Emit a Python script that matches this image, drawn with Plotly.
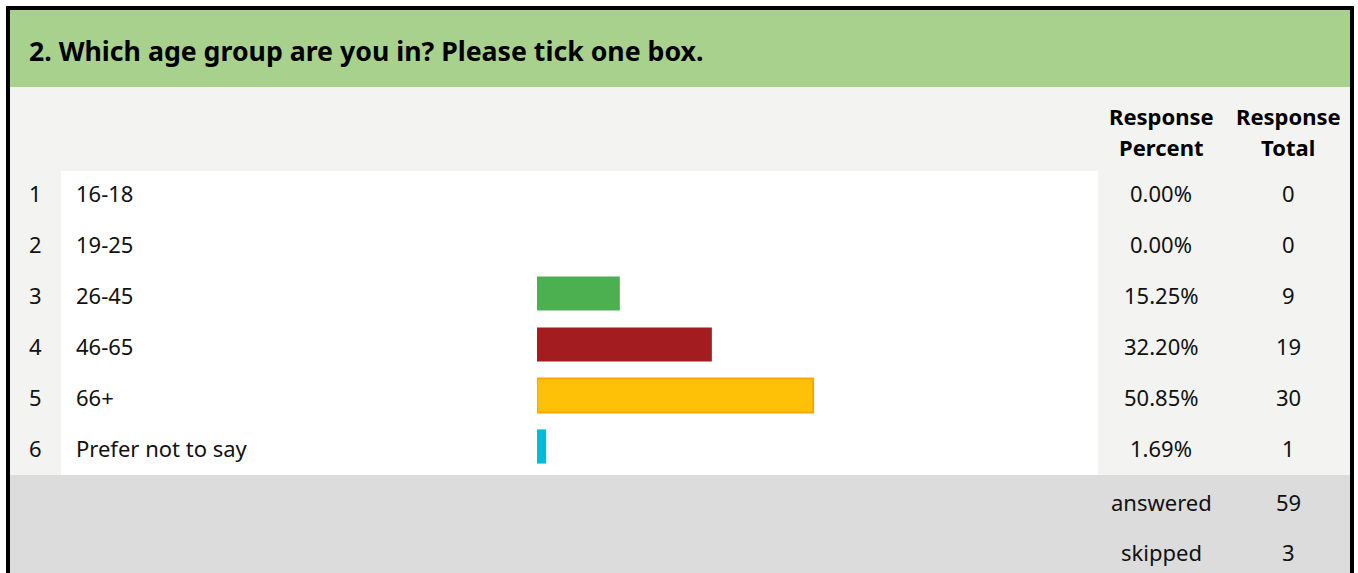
import plotly.graph_objects as go

W, H = 1358, 573

TITLE = "2. Which age group are you in? Please tick one box."
ROW_NUMBERS = ["1", "2", "3", "4", "5", "6"]
ANSWERS = ["16-18", "19-25", "26-45", "46-65", "66+", "Prefer not to say"]
PERCENTS = [0.00, 0.00, 15.25, 32.20, 50.85, 1.69]
TOTALS = [0, 0, 9, 19, 30, 1]
BAR_COLORS = ["#4CAF50", "#4CAF50", "#4CAF50", "#A31C1F", "#FFC107", "#00BCD4"]
LINE_COLORS = ["#4CAF50", "#4CAF50", "#4CAF50", "#A31C1F", "#FFA500", "#00BCD4"]
LINE_WIDTHS = [0, 0, 0, 0, 2, 0]
HEADER_LINES = [["Response", "Percent"], ["Response", "Total"]]
SUMMARY_LABELS = ["answered", "skipped"]
SUMMARY_VALUES = [59, 3]

FONT = "Noto Sans"
TEXT = "#111111"


def px(x):
    return x / W


def py(y):
    return 1 - y / H


def rect(x0, y0, x1, y1, color):
    return dict(type="rect", xref="paper", yref="paper", layer="below",
                x0=px(x0), x1=px(x1), y0=py(y1), y1=py(y0),
                fillcolor=color, line=dict(width=0))


rows = list(range(1, len(ANSWERS) + 1))

fig = go.Figure(go.Bar(
    x=PERCENTS, y=rows, orientation="h", width=0.67,
    marker=dict(color=BAR_COLORS, line=dict(color=LINE_COLORS, width=LINE_WIDTHS)),
    hoverinfo="skip",
))

shapes = [
    rect(10, 10, 1350, 87, "#A9D18E"),
    rect(10, 87, 1350, 475, "#F3F3F2"),
    rect(61, 171, 1098, 475, "#FFFFFF"),
    rect(10, 475, 1350, 573, "#DCDCDC"),
    rect(6, 6, 1354, 10, "#000000"),
    rect(6, 6, 10, 573, "#000000"),
    rect(1350, 6, 1354, 573, "#000000"),
]

ann = [dict(text="<b>%s</b>" % TITLE, xref="paper", yref="paper", x=px(27), y=py(50),
            xanchor="left", yanchor="middle", showarrow=False,
            font=dict(size=26.7, color="#000000", family=FONT))]

for xc, lines in zip([1161, 1288], HEADER_LINES):
    for yc, line in zip([116, 147], lines):
        ann.append(dict(text="<b>%s</b>" % line, xref="paper", yref="paper", x=px(xc), y=py(yc),
                        xanchor="center", yanchor="middle", showarrow=False,
                        font=dict(size=22, color="#000000", family=FONT)))

for r, n, a, p, t in zip(rows, ROW_NUMBERS, ANSWERS, PERCENTS, TOTALS):
    common = dict(xref="paper", yref="y", y=r, yanchor="middle", showarrow=False,
                  yshift=-1, font=dict(size=22, color=TEXT, family=FONT))
    ann.append(dict(text=n, x=px(35), xanchor="center", **common))
    ann.append(dict(text=a, x=px(74), xanchor="left", **common))
    ann.append(dict(text="%.2f%%" % p, x=px(1161), xanchor="center", **common))
    ann.append(dict(text=str(t), x=px(1288), xanchor="center", **common))

for yc, lab, val in zip([502, 552], SUMMARY_LABELS, SUMMARY_VALUES):
    for xc, txt in [(1161, lab), (1288, str(val))]:
        ann.append(dict(text=txt, xref="paper", yref="paper", x=px(xc), y=py(yc),
                        xanchor="center", yanchor="middle", showarrow=False,
                        font=dict(size=22, color=TEXT, family=FONT)))

fig.update_layout(
    width=W, height=H,
    margin=dict(l=0, r=0, t=0, b=0),
    paper_bgcolor="#FFFFFF",
    plot_bgcolor="rgba(0,0,0,0)",
    showlegend=False,
    shapes=shapes,
    annotations=ann,
    xaxis=dict(domain=[px(537), px(1080)], range=[0, 100], visible=False, fixedrange=True),
    yaxis=dict(domain=[py(472), py(166)], range=[6.5, 0.5], visible=False, fixedrange=True),
)

# drop the default 8px body margin so the figure fills the window exactly
fig.write_html("out.html", config={"displayModeBar": False},
               post_script="document.body.style.margin='0';document.body.style.overflow='hidden';")
